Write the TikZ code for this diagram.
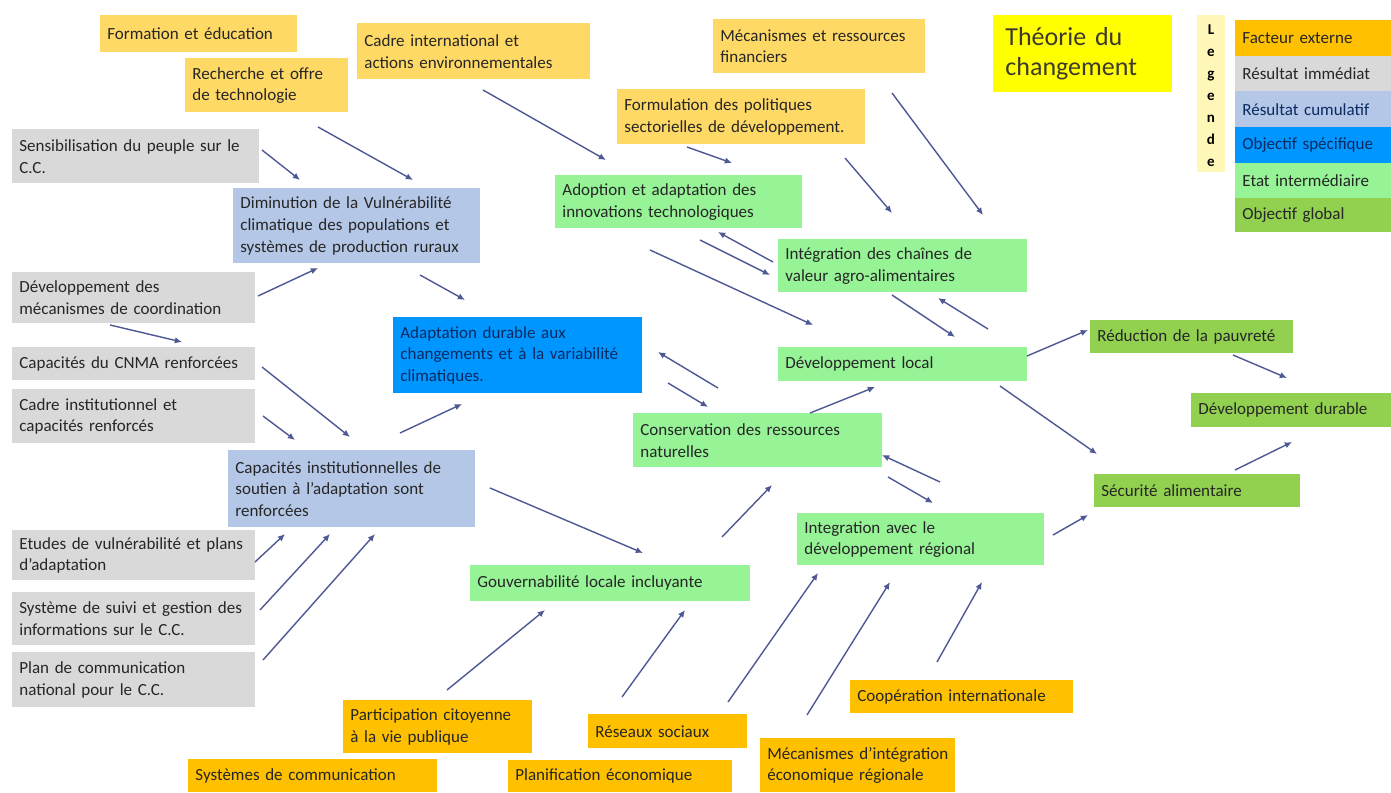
\documentclass[tikz,border=0pt]{standalone}
\usepackage{fontspec}
\setmainfont{Carlito}
\usetikzlibrary{arrows.meta}
\definecolor{lor}{HTML}{FFD966}
\definecolor{ora}{HTML}{FFC000}
\definecolor{gry}{HTML}{D9D9D9}
\definecolor{bgr}{HTML}{B4C7E7}
\definecolor{blu}{HTML}{0096FF}
\definecolor{lgr}{HTML}{96F396}
\definecolor{dgr}{HTML}{92D050}
\definecolor{yel}{HTML}{FFFF00}
\definecolor{pyel}{HTML}{FFF7B8}
\definecolor{arrc}{RGB}{78,88,148}
\definecolor{navy}{HTML}{0A2A60}
\tikzset{
  sz/.code 2 args={\pgfmathsetlengthmacro\tmpw{#1*0.5pt-7pt}%
    \edef\tmpx{\noexpand\pgfkeysalso{minimum width=#1*0.5pt, minimum height=#2*0.5pt, text width=\tmpw}}\tmpx},
  box/.style={draw=none, anchor=north west, align=left, inner xsep=3.5pt, inner ysep=0pt,
    font=\fontsize{8.5}{10.8}\selectfont, text=black!85},
  lorb/.style={box, fill=lor},
  orab/.style={box, fill=ora},
  gryb/.style={box, fill=gry},
  bgrb/.style={box, fill=bgr},
  blub/.style={box, fill=blu, text=navy},
  lgrb/.style={box, fill=lgr},
  dgrb/.style={box, fill=dgr},
  arr/.style={draw=arrc, line width=0.7pt, -{Latex[length=3.6pt,width=3.2pt]}}
}
\begin{document}
\begin{tikzpicture}[x=0.5pt,y=-0.5pt]
\useasboundingbox (0,0) rectangle (1391,792);
\fill[white] (0,0) rectangle (1391,792);

% top light orange
\node[lorb, sz={197}{37}] (form) at (100,15) {Formation et éducation};
\node[lorb, sz={163}{54}] (rech) at (185,58) {Recherche et offre\\de technologie};
\node[lorb, sz={233}{56}] (cadi) at (357,23) {Cadre international et\\actions environnementales};
\node[lorb, sz={212}{54}] (mecf) at (713,19) {Mécanismes et ressources\\financiers};
\node[lorb, sz={248}{55}] (formu) at (617,89) {Formulation des politiques\\sectorielles de développement.};

% title
\node[box, fill=yel, sz={169}{77}, font=\fontsize{13}{15}\selectfont, text=black!75!olive, inner xsep=6pt] (theo) at (993,15) {Théorie du\\changement};

% legend
\node[draw=none, fill=pyel, minimum width=14pt, minimum height=78.5pt, inner sep=0pt] (legstrip) at (1211,93.5) {};
\node[align=center, font=\bfseries\fontsize{7.5}{11}\selectfont, inner sep=0pt] (legtxt) at (1211,96) {L\\e\\g\\e\\n\\d\\e};
\node[orab, sz={156}{36}] (l1) at (1235,20) {Facteur externe};
\node[gryb, sz={156}{35}] (l2) at (1235,56) {Résultat immédiat};
\node[bgrb, sz={156}{36}, text=navy] (l3) at (1235,91) {Résultat cumulatif};
\node[blub, sz={156}{36}] (l4) at (1235,127) {Objectif spécifique};
\node[lgrb, sz={156}{35}] (l5) at (1235,163) {Etat intermédiaire};
\node[dgrb, sz={156}{34}] (l6) at (1235,198) {Objectif global};

% grey
\node[gryb, sz={247}{54}] (sens) at (12,129) {Sensibilisation du peuple sur le\\C.C.};
\node[gryb, sz={243}{51}] (devm) at (12,272) {Développement des\\mécanismes de coordination};
\node[gryb, sz={243}{33}] (cnma) at (12,347) {Capacités du CNMA renforcées};
\node[gryb, sz={243}{54}] (cadinst) at (12,389) {Cadre institutionnel et\\capacités renforcés};
\node[gryb, sz={243}{50}] (etud) at (12,530) {Etudes de vulnérabilité et plans\\d'adaptation};
\node[gryb, sz={243}{53}] (suiv) at (12,592) {Système de suivi et gestion des\\informations sur le C.C.};
\node[gryb, sz={243}{55}] (plan) at (12,652) {Plan de communication\\national pour le C.C.};

% blue-grey
\node[bgrb, sz={247}{75}] (dimi) at (233,188) {Diminution de la Vulnérabilité\\climatique des populations et\\systèmes de production ruraux};
\node[bgrb, sz={247}{77}] (capi) at (228,450) {Capacités institutionnelles de\\soutien à l'adaptation sont\\renforcées};

% blue
\node[blub, sz={249}{76}] (adap) at (393,317) {Adaptation durable aux\\changements et à la variabilité\\climatiques.};

% light green
\node[lgrb, sz={247}{53}] (adop) at (555,175) {Adoption et adaptation des\\innovations technologiques};
\node[lgrb, sz={249}{53}] (inte) at (778,239) {Intégration des chaînes de\\valeur agro-alimentaires};
\node[lgrb, sz={249}{34}] (devl) at (778,347) {Développement local};
\node[lgrb, sz={249}{54}] (cons) at (633,413) {Conservation des ressources\\naturelles};
\node[lgrb, sz={247}{52}] (intr) at (797,513) {Integration avec le\\développement régional};
\node[lgrb, sz={280}{36}] (gouv) at (470,565) {Gouvernabilité locale incluyante};

% dark green
\node[dgrb, sz={203}{33}] (redu) at (1090,320) {Réduction de la pauvreté};
\node[dgrb, sz={201}{34}] (devd) at (1191,393) {Développement durable};
\node[dgrb, sz={206}{33}] (secu) at (1094,474) {Sécurité alimentaire};

% orange bottom
\node[orab, sz={189}{53}] (part) at (343,700) {Participation citoyenne\\à la vie publique};
\node[orab, sz={159}{34}] (rese) at (588,714) {Réseaux sociaux};
\node[orab, sz={223}{33}] (coop) at (850,680) {Coopération internationale};
\node[orab, sz={195}{54}] (mecr) at (760,738) {Mécanismes d'intégration\\économique régionale};
\node[orab, sz={249}{33}] (syst) at (188,759) {Systèmes de communication};
\node[orab, sz={224}{32}] (plane) at (508,760) {Planification économique};

% arrow end points
\coordinate (s1) at (262,150);  \coordinate (e1) at (300,180);
\coordinate (s2) at (318,127);  \coordinate (e2) at (413,180);
\coordinate (s3) at (483,90);   \coordinate (e3) at (606,160);
\coordinate (s4) at (687,147);  \coordinate (e4) at (732,163);
\coordinate (s5) at (845,158);  \coordinate (e5) at (892,213);
\coordinate (s6) at (892,93);   \coordinate (e6) at (983,215);
\coordinate (s7) at (773,262);  \coordinate (e7) at (718,232);
\coordinate (s8) at (700,240);  \coordinate (e8) at (770,275);
\coordinate (s9) at (650,250);  \coordinate (e9) at (813,325);
\coordinate (s10) at (892,295); \coordinate (e10) at (955,337);
\coordinate (s11) at (988,329); \coordinate (e11) at (938,298);
\coordinate (s12) at (1027,356);\coordinate (e12) at (1088,330);
\coordinate (s13) at (1233,355);\coordinate (e13) at (1287,378);
\coordinate (s14) at (1000,386);\coordinate (e14) at (1097,454);
\coordinate (s15) at (1235,470);\coordinate (e15) at (1292,442);
\coordinate (s16) at (1053,535);\coordinate (e16) at (1088,515);
\coordinate (s17) at (810,413); \coordinate (e17) at (875,387);
\coordinate (s18) at (940,482); \coordinate (e18) at (882,455);
\coordinate (s19) at (888,477); \coordinate (e19) at (933,503);
\coordinate (s20) at (722,537); \coordinate (e20) at (772,485);
\coordinate (s21) at (490,488); \coordinate (e21) at (643,553);
\coordinate (s22) at (400,433); \coordinate (e22) at (462,404);
\coordinate (s23) at (420,275); \coordinate (e23) at (465,300);
\coordinate (s24) at (258,296); \coordinate (e24) at (318,268);
\coordinate (s25) at (110,325); \coordinate (e25) at (182,342);
\coordinate (s26) at (262,367); \coordinate (e26) at (350,437);
\coordinate (s27) at (263,416); \coordinate (e27) at (295,440);
\coordinate (s28) at (255,562); \coordinate (e28) at (285,534);
\coordinate (s29) at (260,610); \coordinate (e29) at (330,534);
\coordinate (s30) at (263,660); \coordinate (e30) at (375,534);
\coordinate (s31) at (718,388); \coordinate (e31) at (658,352);
\coordinate (s32) at (668,383); \coordinate (e32) at (708,407);
\coordinate (s33) at (447,690); \coordinate (e33) at (545,610);
\coordinate (s34) at (622,697); \coordinate (e34) at (685,610);
\coordinate (s35) at (728,702); \coordinate (e35) at (818,573);
\coordinate (s36) at (807,715); \coordinate (e36) at (890,582);
\coordinate (s37) at (937,662); \coordinate (e37) at (982,582);

\foreach \i in {1,...,37} { \draw[arr] (s\i) -- (e\i); }
\end{tikzpicture}
\end{document}
